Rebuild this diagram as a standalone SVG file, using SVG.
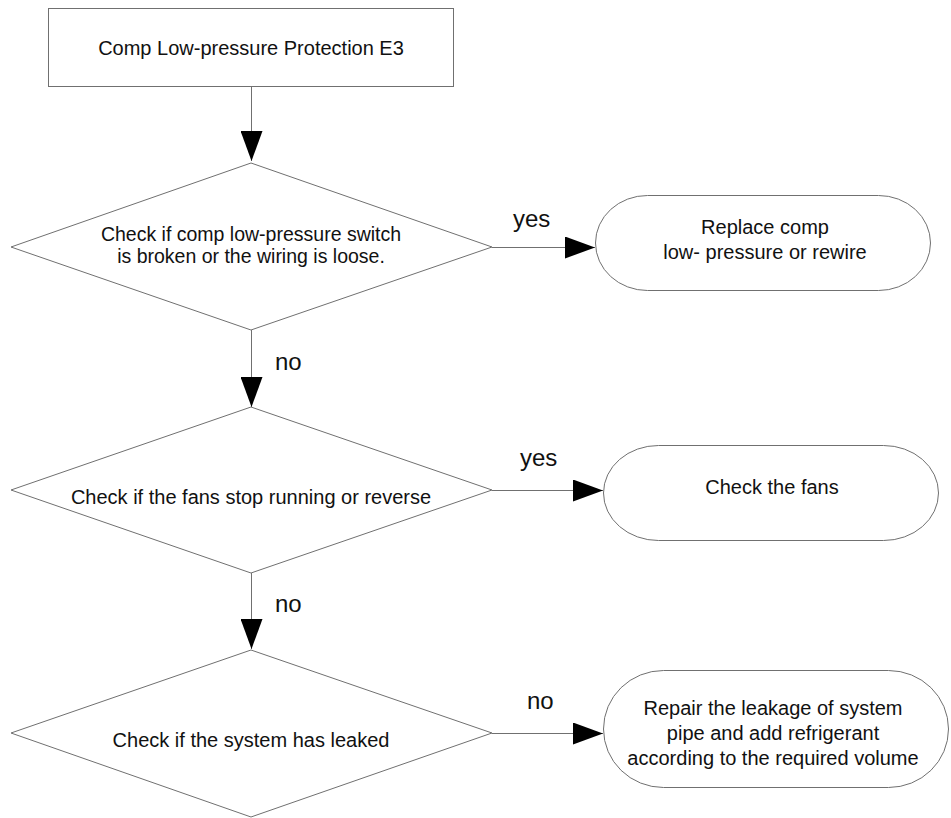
<svg xmlns="http://www.w3.org/2000/svg" width="951" height="818" viewBox="0 0 951 818">
<defs>
<style>
.shape{fill:#ffffff;stroke:#707070;stroke-width:1}
.conn{fill:none;stroke:#707070;stroke-width:1}
.t{font-family:"Liberation Sans",Arial,sans-serif;font-size:20px;fill:#111;text-anchor:middle}
.t2{font-family:"Liberation Sans",Arial,sans-serif;font-size:19.5px;fill:#111;text-anchor:middle}
.lbl{font-family:"Liberation Sans",Arial,sans-serif;font-size:24px;fill:#111}
</style>
<marker id="ah" viewBox="0 0 30 22" refX="30" refY="11" markerWidth="30" markerHeight="22" markerUnits="userSpaceOnUse" orient="auto">
<path d="M0,0 L30,11 L0,22 Z" fill="#000"/>
</marker>
</defs>
<rect width="951" height="818" fill="#ffffff"/>
<g id="start">
<rect class="shape" x="48.5" y="8.5" width="405" height="78"/>
<text class="t" x="251" y="55">Comp Low-pressure Protection E3</text>
</g>
<g id="d1">
<polygon class="shape" points="251,163 492,247 251,330 11,247"/>
<text class="t2" x="251" y="241">Check if comp low-pressure switch</text>
<text class="t2" x="251" y="263">is broken or the wiring is loose.</text>
</g>
<g id="r1">
<rect class="shape" x="595.5" y="195.5" width="335" height="95" rx="52" ry="47.5"/>
<text class="t" x="765" y="234">Replace comp</text>
<text class="t" x="765" y="259">low- pressure or rewire</text>
</g>
<g id="d2">
<polygon class="shape" points="251,407 492,490 251,573 11,490"/>
<text class="t" x="251" y="504">Check if the fans stop running or reverse</text>
</g>
<g id="r2">
<rect class="shape" x="603.5" y="445.5" width="335" height="95" rx="55" ry="47.5"/>
<text class="t" x="772" y="494">Check the fans</text>
</g>
<g id="d3">
<polygon class="shape" points="251,650 492,733 251,817 11,733"/>
<text class="t" x="251" y="747">Check if the system has leaked</text>
</g>
<g id="r3">
<rect class="shape" x="603.5" y="670.5" width="345" height="117" rx="60" ry="58.5"/>
<text class="t" x="773" y="715">Repair the leakage of system</text>
<text class="t" x="773" y="740">pipe and add refrigerant</text>
<text class="t" x="773" y="765">according to the required volume</text>
</g>
<g id="connectors">
<line class="conn" x1="251.5" y1="87" x2="251.5" y2="161" marker-end="url(#ah)"/>
<line class="conn" x1="492" y1="247.5" x2="595" y2="247.5" marker-end="url(#ah)"/>
<line class="conn" x1="251.5" y1="330" x2="251.5" y2="407" marker-end="url(#ah)"/>
<line class="conn" x1="492" y1="490.5" x2="603" y2="490.5" marker-end="url(#ah)"/>
<line class="conn" x1="251.5" y1="573" x2="251.5" y2="649" marker-end="url(#ah)"/>
<line class="conn" x1="492" y1="733.5" x2="603" y2="733.5" marker-end="url(#ah)"/>
<text class="lbl" x="513" y="227">yes</text>
<text class="lbl" x="275" y="370">no</text>
<text class="lbl" x="520" y="466">yes</text>
<text class="lbl" x="275" y="612">no</text>
<text class="lbl" x="527" y="709">no</text>
</g>
</svg>
